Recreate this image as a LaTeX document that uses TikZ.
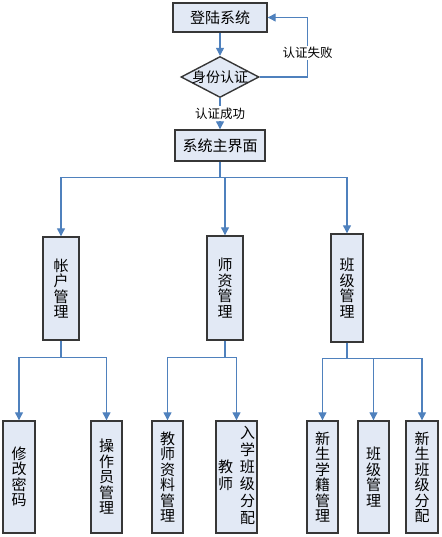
\documentclass[tikz,border=0pt]{standalone}
\usepackage{fontspec}
\newfontfamily\cjk{Noto Sans CJK SC}
\usetikzlibrary{shapes.geometric,arrows.meta}
\definecolor{linkblue}{RGB}{79,129,189}
\definecolor{boxfill}{RGB}{226,233,245}
\definecolor{boxdraw}{RGB}{55,55,55}
\begin{document}
\begin{tikzpicture}[x=1pt,y=-1pt,
  box/.style={draw=boxdraw,fill=boxfill,line width=1.4pt,inner sep=0pt,align=center,
    font=\cjk\fontsize{15}{15.5}\selectfont},
  link/.style={draw=linkblue,line width=1.2pt},
  arr/.style={link,-{Triangle[width=8pt,length=8pt]}},
  lbl/.style={fill=white,inner sep=1.5pt,font=\cjk\fontsize{12.5}{13}\selectfont}]
\useasboundingbox (0,0) rectangle (441,537);

% top part
\node[box,minimum width=94pt,minimum height=29pt] (login) at (220,17.5) {登陆系统};
\node[box,diamond,inner sep=-5pt,aspect=1.9,minimum width=78pt,minimum height=41pt,
  font=\cjk\fontsize{14}{15}\selectfont] (auth) at (220,77) {身份认证};
\node[box,minimum width=90pt,minimum height=31pt] (main) at (220,145.5) {系统主界面};

\draw[arr] (login) -- (auth);
\draw[arr] (auth.east) -- ++(48,0) |- (login.east) node[lbl,pos=0.2] (fail) {认证失败};
\draw[arr] (auth) -- (main) node[lbl,midway] (ok) {认证成功};

% second level
\node[box,minimum width=36pt,minimum height=103pt] (acct) at (61,288.5) {帐\\户\\管\\理};
\node[box,minimum width=36pt,minimum height=104pt] (teach) at (225,288) {师\\资\\管\\理};
\node[box,minimum width=32pt,minimum height=108pt] (cls) at (347,288) {班\\级\\管\\理};

\draw[link] (main.south) -- ++(0,16) coordinate (bus1);
\draw[arr] (bus1) -| (acct.north);
\draw[arr] (bus1) -| (teach.north);
\draw[arr] (bus1) -| (cls.north);

% third level
\node[box,minimum width=32pt,minimum height=112pt] (pwd) at (19,477) {修\\改\\密\\码};
\node[box,minimum width=31pt,minimum height=112pt] (oper) at (106.5,477) {操\\作\\员\\管\\理};
\node[box,minimum width=31pt,minimum height=112pt] (tinfo) at (167.5,477) {教\\师\\资\\料\\管\\理};
\node[box,minimum width=41pt,minimum height=112pt] (tassign) at (236.5,477)
  {\begin{tabular}{@{}c@{\hspace{7pt}}c@{}} & 入\\ & 学\\ 教 & 班\\ 师 & 级\\ & 分\\ & 配\end{tabular}};
\node[box,minimum width=31pt,minimum height=112pt] (newstu) at (322.5,477) {新\\生\\学\\籍\\管\\理};
\node[box,minimum width=31pt,minimum height=112pt] (clsman) at (373.5,477) {班\\级\\管\\理};
\node[box,minimum width=32pt,minimum height=112pt] (newcls) at (422,477) {新\\生\\班\\级\\分\\配};

\draw[link] (acct.south) -- ++(0,17) coordinate (bus2);
\draw[arr] (bus2) -| (pwd.north);
\draw[arr] (bus2) -| (oper.north);

\draw[link] (teach.south) -- ++(0,17) coordinate (bus3);
\draw[arr] (bus3) -| (tinfo.north);
\draw[arr] (bus3) -| (tassign.north);

\draw[link] (cls.south) -- ++(0,16) coordinate (bus4);
\draw[arr] (bus4) -| (newstu.north);
\draw[arr] (bus4) -| (clsman.north);
\draw[arr] (bus4) -| (newcls.north);
\end{tikzpicture}
\end{document}
